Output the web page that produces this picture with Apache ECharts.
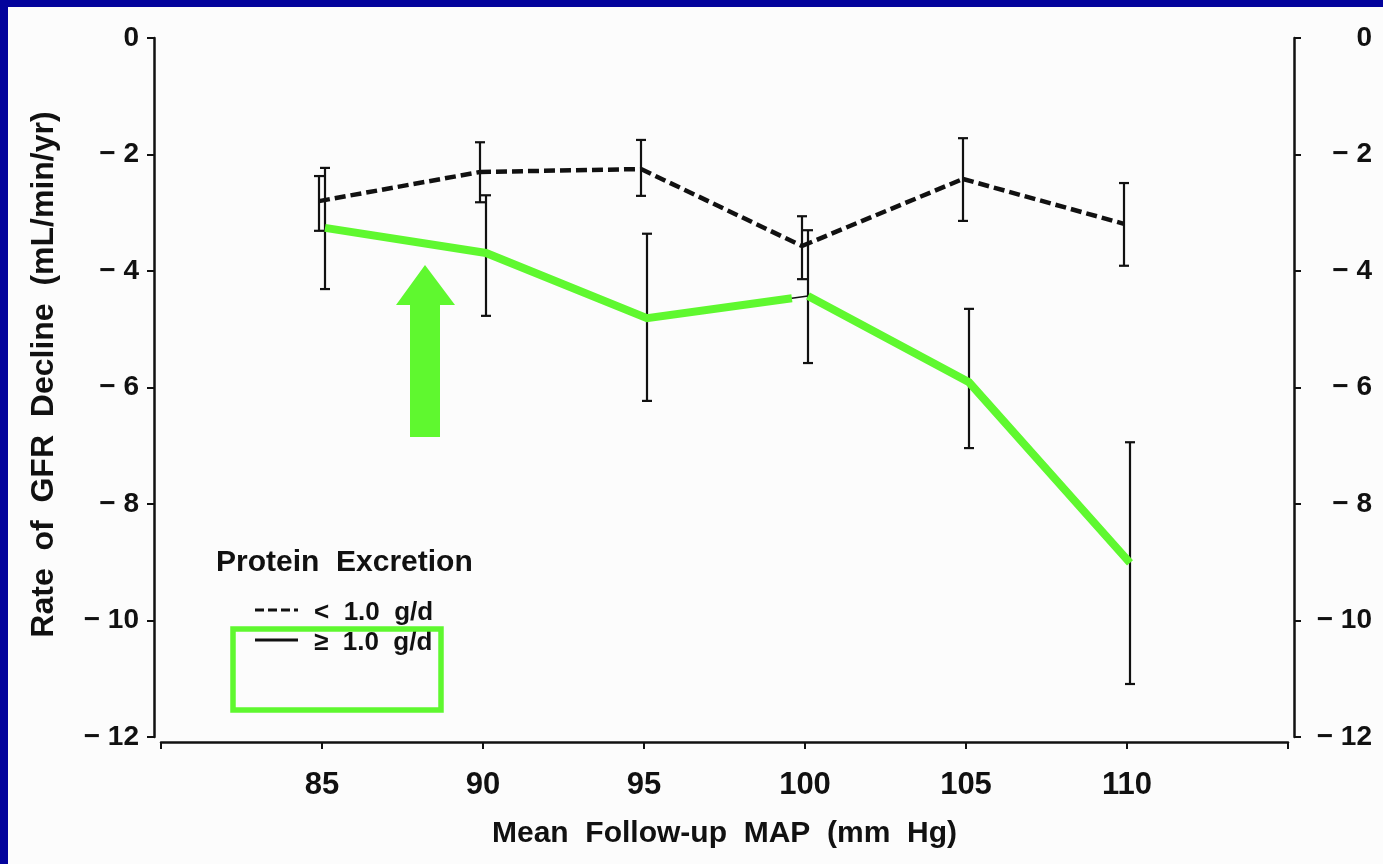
<!DOCTYPE html>
<html>
<head>
<meta charset="utf-8">
<script src="https://cdn.jsdelivr.net/npm/echarts@6/dist/echarts.min.js"></script>
<style>
  html, body { margin: 0; padding: 0; background: #fcfcfc; }
  #chart { width: 1383px; height: 864px; }
</style>
</head>
<body>
<div id="chart"></div>
<script>
// Mean follow-up MAP groups (mm Hg)
const mapValues = [85, 90, 95, 100, 105, 110];

// Protein excretion < 1.0 g/d : mean rate of GFR decline and error-bar limits
const lowMean  = [-2.80, -2.30, -2.25, -3.57, -2.42, -3.19];
const lowUpper = [-2.37, -1.79, -1.75, -3.06, -1.72, -2.49];
const lowLower = [-3.31, -2.82, -2.71, -4.14, -3.14, -3.91];

// Protein excretion >= 1.0 g/d
const highMean  = [-3.26, -3.69, -4.81, -4.43, -5.91, -9.01];
const highUpper = [-2.23, -2.70, -3.36, -3.30, -4.65, -6.94];
const highLower = [-4.31, -4.77, -6.23, -5.58, -7.04, -11.09];

// Labelled x ticks (80 and 115 carry a tick but no label)
const xTickLabels = [85, 90, 95, 100, 105, 110];

const FONT = '"Liberation Sans", Arial, Helvetica, sans-serif';
const INK = '#111111';
const GREEN = '#5ff82f';
const FRAME_BLUE = '#03039c';

function yLabel(v) {
  if (v === 0) return '0';
  return v < 0 ? '\u2212 ' + Math.abs(v) : String(v);
}

// One group: error bars plus the connecting line, nudged sideways by dx pixels
function groupSeries(name, mean, upper, lower, dx, lineStyle, z) {
  return {
    type: 'custom',
    name: name,
    z: z,
    xAxisIndex: 0,
    yAxisIndex: 0,
    encode: { x: 0, y: [1, 2, 3] },
    data: mapValues.map((x, i) => [x, mean[i], upper[i], lower[i]]),
    renderItem(params, api) {
      const i = params.dataIndex;
      const xv = api.value(0);
      const p = api.coord([xv, api.value(1)]);
      const t = api.coord([xv, api.value(2)]);
      const b = api.coord([xv, api.value(3)]);
      const x = p[0] + dx;
      const cap = 5;
      const bar = { stroke: INK, lineWidth: 2.2, fill: null };
      const children = [
        { type: 'line', shape: { x1: x, y1: t[1], x2: x, y2: b[1] }, style: bar },
        { type: 'line', shape: { x1: x - cap, y1: t[1], x2: x + cap, y2: t[1] }, style: bar },
        { type: 'line', shape: { x1: x - cap, y1: b[1], x2: x + cap, y2: b[1] }, style: bar }
      ];
      if (i < mapValues.length - 1) {
        const q = api.coord([mapValues[i + 1], mean[i + 1]]);
        children.push({
          type: 'line',
          shape: { x1: x, y1: p[1], x2: q[0] + dx, y2: q[1] },
          style: Object.assign({ fill: null }, lineStyle)
        });
      }
      return { type: 'group', children: children };
    }
  };
}

// Bright highlight traced over the >= 1.0 g/d line, lifted briefly before 100 mm Hg
const highlightLift = { segment: 2, endAt: 0.9 };
const highlightSeries = {
  type: 'custom',
  name: 'highlight',
  z: 10,
  silent: true,
  encode: { x: 0, y: 1 },
  data: mapValues.map((x, i) => [x, highMean[i]]),
  renderItem(params, api) {
    if (params.dataIndex !== 0) return null;
    const dx = 3;
    const pts = mapValues.map((x, i) => {
      const c = api.coord([x, highMean[i]]);
      return [c[0] + dx, c[1]];
    });
    const s = highlightLift.segment;
    const a = pts[s], b = pts[s + 1];
    const cut = [a[0] + (b[0] - a[0]) * highlightLift.endAt, a[1] + (b[1] - a[1]) * highlightLift.endAt];
    const run1 = pts.slice(0, s + 1).concat([cut]);
    const run2 = pts.slice(s + 1);
    const st = { stroke: GREEN, lineWidth: 8, fill: null, lineJoin: 'miter', lineCap: 'butt' };
    return {
      type: 'group',
      children: [
        { type: 'polyline', shape: { points: run1 }, style: st },
        { type: 'polyline', shape: { points: run2 }, style: st }
      ]
    };
  }
};

const chart = echarts.init(document.getElementById('chart'));

const axisText = { color: INK, fontFamily: FONT, fontWeight: 'bold' };

chart.setOption({
  backgroundColor: '#fcfcfc',
  animation: false,
  grid: { left: 161, right: 95, top: 38, bottom: 127, containLabel: false },
  xAxis: {
    type: 'value',
    min: 80,
    max: 115,
    interval: 5,
    offset: 5,
    name: 'Mean  Follow-up  MAP  (mm  Hg)',
    nameLocation: 'middle',
    nameGap: 77,
    nameTextStyle: Object.assign({ fontSize: 30 }, axisText),
    axisLine: { show: true, onZero: false, lineStyle: { color: INK, width: 2.5 } },
    axisTick: { show: true, length: 7, lineStyle: { color: INK, width: 2 } },
    axisLabel: Object.assign({
      fontSize: 31,
      margin: 28,
      formatter: v => (xTickLabels.indexOf(v) >= 0 ? String(v) : '')
    }, axisText),
    splitLine: { show: false }
  },
  yAxis: [
    {
      type: 'value',
      position: 'left',
      min: -12,
      max: 0,
      interval: 2,
      offset: 7,
      name: 'Rate  of  GFR  Decline  (mL/min/yr)',
      nameLocation: 'middle',
      nameRotate: 90,
      nameGap: 94,
      nameTextStyle: Object.assign({ fontSize: 32, padding: [0, 0, 0, 26] }, axisText),
      axisLine: { show: true, onZero: false, lineStyle: { color: INK, width: 2.5 } },
      axisTick: { show: true, length: 7, lineStyle: { color: INK, width: 2 } },
      axisLabel: Object.assign({ fontSize: 28, margin: 15, formatter: yLabel }, axisText),
      splitLine: { show: false }
    },
    {
      type: 'value',
      position: 'right',
      min: -12,
      max: 0,
      interval: 2,
      offset: 6,
      axisLine: { show: true, onZero: false, lineStyle: { color: INK, width: 2.5 } },
      axisTick: { show: true, length: 7, lineStyle: { color: INK, width: 2 } },
      axisLabel: Object.assign({ fontSize: 28, margin: 78, align: 'right', formatter: yLabel }, axisText),
      splitLine: { show: false }
    }
  ],
  series: [
    groupSeries('< 1.0 g/d', lowMean, lowUpper, lowLower, -3,
      { stroke: INK, lineWidth: 4.5, lineDash: [11, 5] }, 4),
    groupSeries('\u2265 1.0 g/d', highMean, highUpper, highLower, 3,
      { stroke: INK, lineWidth: 1.6 }, 5),
    highlightSeries
  ],
  graphic: [
    // page frame
    { type: 'rect', z: 100, shape: { x: 0, y: 0, width: 1383, height: 7 }, style: { fill: FRAME_BLUE } },
    { type: 'rect', z: 100, shape: { x: 0, y: 0, width: 8, height: 864 }, style: { fill: FRAME_BLUE } },
    // legend
    { type: 'text', z: 50, x: 216, y: 563,
      style: { text: 'Protein  Excretion', fill: INK, font: 'bold 30px ' + FONT, textAlign: 'left', textVerticalAlign: 'middle' } },
    { type: 'line', z: 50, shape: { x1: 255, y1: 610, x2: 298, y2: 610 },
      style: { stroke: INK, lineWidth: 3, lineDash: [9, 4] } },
    { type: 'text', z: 50, x: 314, y: 613,
      style: { text: '<  1.0  g/d', fill: INK, font: 'bold 26px ' + FONT, textAlign: 'left', textVerticalAlign: 'middle' } },
    { type: 'line', z: 50, shape: { x1: 255, y1: 640, x2: 298, y2: 640 },
      style: { stroke: INK, lineWidth: 3 } },
    { type: 'text', z: 50, x: 314, y: 643,
      style: { text: '\u2265  1.0  g/d', fill: INK, font: 'bold 26px ' + FONT, textAlign: 'left', textVerticalAlign: 'middle' } },
    // highlight box around the >= 1.0 g/d legend entry
    { type: 'rect', z: 60, shape: { x: 233, y: 629, width: 208, height: 81 },
      style: { fill: null, stroke: GREEN, lineWidth: 5.5 } },
    // upward arrow
    { type: 'polygon', z: 60,
      shape: { points: [[410, 437], [440, 437], [440, 305], [455, 305], [425, 265], [396, 305], [410, 305]] },
      style: { fill: GREEN } }
  ]
});
</script>
</body>
</html>
